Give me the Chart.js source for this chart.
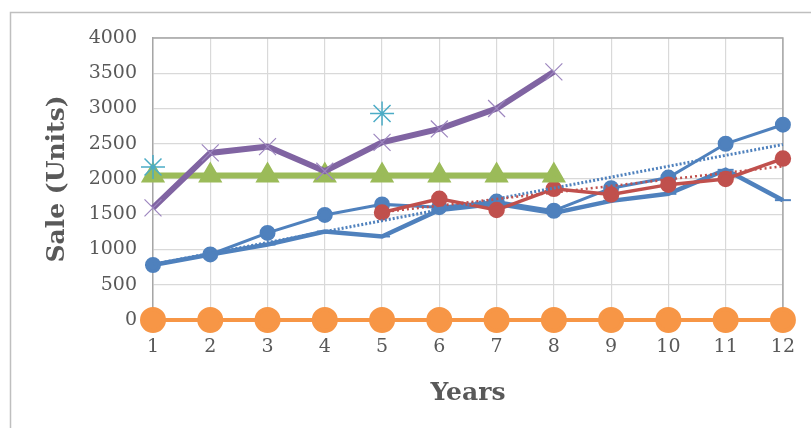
<!DOCTYPE html>
<html>
<head>
<meta charset="utf-8">
<script src="https://cdn.jsdelivr.net/npm/chart.js@4/dist/chart.umd.min.js"></script>
<style>
  html, body { margin: 0; padding: 0; background: #fff; }
  #wrap { width: 811px; height: 428px; }
</style>
</head>
<body>
<div id="wrap"><canvas id="sales"></canvas></div>
<script>
const years = [1, 2, 3, 4, 5, 6, 7, 8, 9, 10, 11, 12];
const yTicks = [0, 500, 1000, 1500, 2000, 2500, 3000, 3500, 4000];

const blueA = [780, 930, 1235, 1490, 1640, 1600, 1680, 1550, 1870, 2020, 2500, 2770];
const blueB = [780, 930, 1070, 1255, 1185, 1560, 1650, 1520, 1690, 1790, 2130, 1700];
const red = [null, null, null, null, 1525, 1720, 1560, 1860, 1780, 1920, 2000, 2290];
const orange = [0, 0, 0, 0, 0, 0, 0, 0, 0, 0, 0, 0];
const green = [2050, 2050, 2050, 2050, 2050, 2050, 2050, 2050, null, null, null, null];
const purple = [1590, 2370, 2460, 2110, 2520, 2710, 3000, 3520, null, null, null, null];
const cyan = [2170, null, null, null, 2930, null, null, null, null, null, null, null];

const blueTrendX = [1, 12];
const blueTrendY = [790, 2490];
const redTrendX = [5, 12];
const redTrendY = [1530, 2180];

const toPoints = (xs, ys) => xs.map((x, i) => ({ x: x, y: ys[i] }));

const serif = "'DejaVu Serif', 'Liberation Serif', serif";

// frame lines round the chart and plot area
const framePlugin = {
  id: 'frame',
  beforeDraw(chart) {
    const ctx = chart.ctx;
    ctx.save();
    ctx.strokeStyle = '#bfbfbf';
    ctx.lineWidth = 1.5;
    ctx.beginPath();
    ctx.moveTo(10.5, 428);
    ctx.lineTo(10.5, 12.5);
    ctx.lineTo(811, 12.5);
    ctx.stroke();
    ctx.restore();
  },
  beforeDatasetsDraw(chart) {
    const a = chart.chartArea;
    const ctx = chart.ctx;
    ctx.save();
    ctx.strokeStyle = '#a6a6a6';
    ctx.lineWidth = 1.5;
    ctx.beginPath();
    ctx.moveTo(a.left, a.top);
    ctx.lineTo(a.right, a.top);
    ctx.lineTo(a.right, a.bottom);
    ctx.stroke();
    ctx.restore();
  }
};

new Chart(document.getElementById('sales'), {
  type: 'line',
  data: {
    labels: years,
    datasets: [
      {
        label: 'Orange',
        data: orange,
        borderColor: '#f79646',
        backgroundColor: '#f79646',
        borderWidth: 4,
        pointRadius: 11,
        pointHoverRadius: 11,
        clip: false
      },
      {
        label: 'Cyan',
        data: cyan,
        showLine: false,
        borderColor: '#4bacc6',
        backgroundColor: '#4bacc6',
        pointStyle: 'star',
        pointRadius: 12,
        pointBorderWidth: 1.5,
        clip: false
      },
      {
        label: 'Purple',
        data: purple,
        borderColor: '#8064a2',
        backgroundColor: '#8064a2',
        borderWidth: 6,
        pointStyle: 'crossRot',
        pointRadius: 12,
        pointBorderWidth: 1.2,
        pointBorderColor: '#9d86bf',
        clip: false
      },
      {
        label: 'Green',
        data: green,
        borderColor: '#9bbb59',
        backgroundColor: '#9bbb59',
        borderWidth: 6,
        pointStyle: 'triangle',
        pointRadius: 8,
        clip: false
      },
      {
        label: 'Red trend',
        data: toPoints(redTrendX, redTrendY),
        borderColor: '#c0504d',
        borderWidth: 2.5,
        borderDash: [2, 3],
        pointRadius: 0,
        clip: false
      },
      {
        label: 'Blue trend',
        data: toPoints(blueTrendX, blueTrendY),
        borderColor: '#4f81bd',
        borderWidth: 3,
        borderDash: [2, 2],
        pointRadius: 0,
        clip: false
      },
      {
        label: 'Red',
        data: red,
        borderColor: '#c0504d',
        backgroundColor: '#c0504d',
        borderWidth: 3.5,
        pointRadius: 6.5,
        clip: false
      },
      {
        label: 'Blue A',
        data: blueA,
        borderColor: '#4f81bd',
        backgroundColor: '#4f81bd',
        borderWidth: 3,
        pointRadius: 6.5,
        clip: false
      },
      {
        label: 'Blue B',
        data: blueB,
        borderColor: '#4f81bd',
        backgroundColor: '#4f81bd',
        borderWidth: 4.5,
        pointStyle: 'line',
        pointRadius: 8,
        pointBorderWidth: 2,
        clip: false
      }
    ]
  },
  options: {
    responsive: true,
    maintainAspectRatio: false,
    animation: false,
    events: [],
    layout: { padding: { top: 38, right: 26, left: 0, bottom: 0 } },
    plugins: {
      legend: { display: false },
      tooltip: { enabled: false }
    },
    elements: { line: { tension: 0 } },
    scales: {
      x: {
        type: 'linear',
        min: 1,
        max: 12,
        afterFit(scale) { scale.height = 108; },
        ticks: {
          stepSize: 1,
          padding: 16,
          color: '#595959',
          font: { family: serif, size: 19 }
        },
        grid: { color: '#d9d9d9', lineWidth: 1.2, drawTicks: false },
        border: { color: '#a6a6a6', width: 1.5 },
        title: {
          display: true,
          text: 'Years',
          color: '#595959',
          font: { family: serif, size: 25, weight: 'bold' },
          padding: { top: 0, bottom: 20 }
        }
      },
      y: {
        min: 0,
        max: 4000,
        afterFit(scale) { scale.width = 153; },
        afterBuildTicks(scale) { scale.ticks = yTicks.map(v => ({ value: v })); },
        ticks: {
          padding: 16,
          color: '#595959',
          font: { family: serif, size: 19 },
          callback: (v) => String(v)
        },
        grid: { color: '#d9d9d9', lineWidth: 1.2, drawTicks: false },
        border: { color: '#a6a6a6', width: 1.5 },
        title: {
          display: true,
          text: 'Sale (Units)',
          color: '#595959',
          font: { family: serif, size: 25, weight: 'bold' },
          padding: { top: 42, bottom: 0 }
        }
      }
    }
  },
  plugins: [framePlugin]
});
</script>
</body>
</html>
